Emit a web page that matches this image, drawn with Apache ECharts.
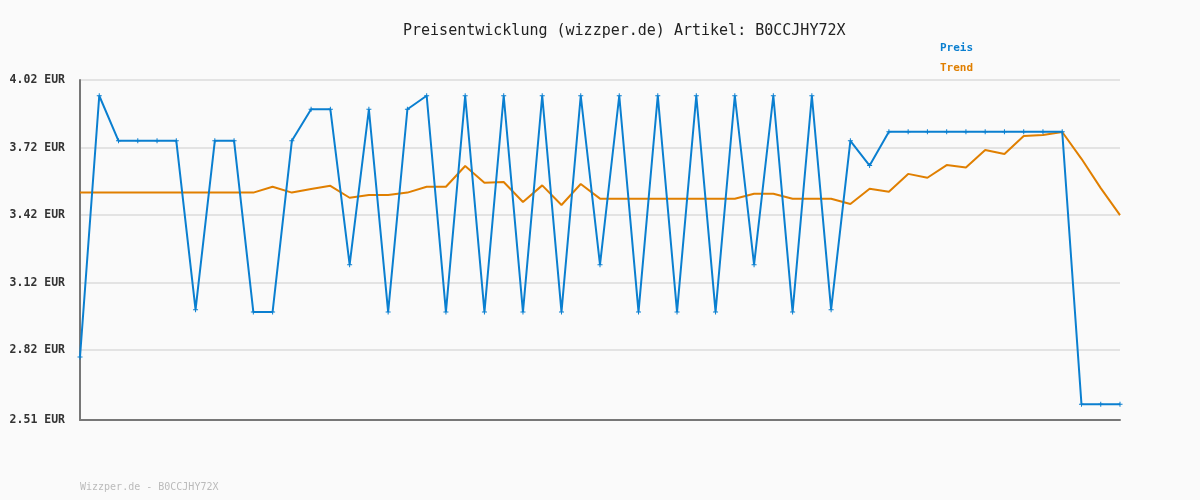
<!DOCTYPE html>
<html>
<head>
<meta charset="utf-8">
<script src="https://cdn.jsdelivr.net/npm/echarts@6/dist/echarts.min.js"></script>
<style>html,body{margin:0;padding:0;background:#fafafa}#c{width:1200px;height:500px}</style>
</head>
<body>
<div id="c"></div>
<script>
const titleText = 'Preisentwicklung (wizzper.de) Artikel: B0CCJHY72X';
const footerText = 'Wizzper.de - B0CCJHY72X';
const seriesNames = ['Preis', 'Trend'];
const yTicks = [2.51, 2.82, 3.12, 3.42, 3.72, 4.02];
const preis = [2.79, 3.95, 3.75, 3.75, 3.75, 3.75, 3.00, 3.75, 3.75, 2.99,
  2.99, 3.75, 3.89, 3.89, 3.20, 3.89, 2.99, 3.89, 3.95, 2.99,
  3.95, 2.99, 3.95, 2.99, 3.95, 2.99, 3.95, 3.20, 3.95, 2.99,
  3.95, 2.99, 3.95, 2.99, 3.95, 3.20, 3.95, 2.99, 3.95, 3.00,
  3.75, 3.64, 3.79, 3.79, 3.79, 3.79, 3.79, 3.79, 3.79, 3.79,
  3.79, 3.79, 2.58, 2.58, 2.58];
const trend = [3.52, 3.52, 3.52, 3.52, 3.52, 3.52, 3.52, 3.52, 3.52, 3.52,
  3.546, 3.52, 3.536, 3.55, 3.497, 3.509, 3.509, 3.52, 3.546, 3.546,
  3.638, 3.564, 3.567, 3.478, 3.552, 3.465, 3.558, 3.493, 3.493, 3.493,
  3.493, 3.493, 3.493, 3.493, 3.493, 3.515, 3.515, 3.493, 3.493, 3.493,
  3.469, 3.537, 3.524, 3.603, 3.586, 3.642, 3.631, 3.709, 3.691, 3.771,
  3.776, 3.789, 3.67, 3.54, 3.42];
const categories = preis.map((_, i) => String(i + 1));

const BLUE = '#0a7fd0';
const ORANGE = '#e07f00';
const MONO = '"DejaVu Sans Mono", "Liberation Mono", monospace';

const chart = echarts.init(document.getElementById('c'));
chart.setOption({
  backgroundColor: '#fafafa',
  animation: false,
  title: {
    text: titleText, left: 398, top: 19,
    textStyle: { fontFamily: MONO, fontSize: 15, fontWeight: 'normal', color: '#222' }
  },
  legend: {
    orient: 'vertical', left: 935, top: 38, itemWidth: 0, itemHeight: 0, itemGap: 9,
    icon: 'rect',
    data: [
      { name: seriesNames[0], textStyle: { color: BLUE } },
      { name: seriesNames[1], textStyle: { color: ORANGE } }
    ],
    textStyle: { fontFamily: MONO, fontSize: 11, fontWeight: 'bold', padding: [0, 0, 0, -5] }
  },
  graphic: [{
    type: 'text', left: 80, top: 482,
    style: { text: footerText, fill: '#bbbbbb', font: '10px ' + MONO }
  }],
  grid: { left: 80, right: 80, top: 80, bottom: 80 },
  xAxis: {
    type: 'category', data: categories, boundaryGap: false,
    axisLine: { lineStyle: { color: '#777', width: 2 } },
    axisTick: { show: false }, axisLabel: { show: false }, splitLine: { show: false }
  },
  yAxis: {
    type: 'value', min: yTicks[0], max: yTicks[yTicks.length - 1],
    axisLine: { show: true, lineStyle: { color: '#777', width: 2 } },
    axisTick: { show: false, customValues: yTicks },
    axisLabel: {
      customValues: yTicks, margin: 15,
      formatter: v => v.toFixed(2) + ' EUR',
      fontFamily: MONO, fontSize: 11.5, fontWeight: 'bold', color: '#333'
    },
    splitLine: { show: true, lineStyle: { color: '#e3e3e3', width: 2 } }
  },
  series: [
    {
      name: seriesNames[0], type: 'line', data: preis, z: 3,
      lineStyle: { color: BLUE, width: 2 }, itemStyle: { color: BLUE },
      symbol: 'path://M2,0H3V2H5V3H3V5H2V3H0V2H2Z', symbolSize: 5, showSymbol: true
    },
    {
      name: seriesNames[1], type: 'line', data: trend, z: 2,
      lineStyle: { color: ORANGE, width: 2 }, itemStyle: { color: ORANGE },
      symbol: 'none'
    }
  ]
});
</script>
</body>
</html>
